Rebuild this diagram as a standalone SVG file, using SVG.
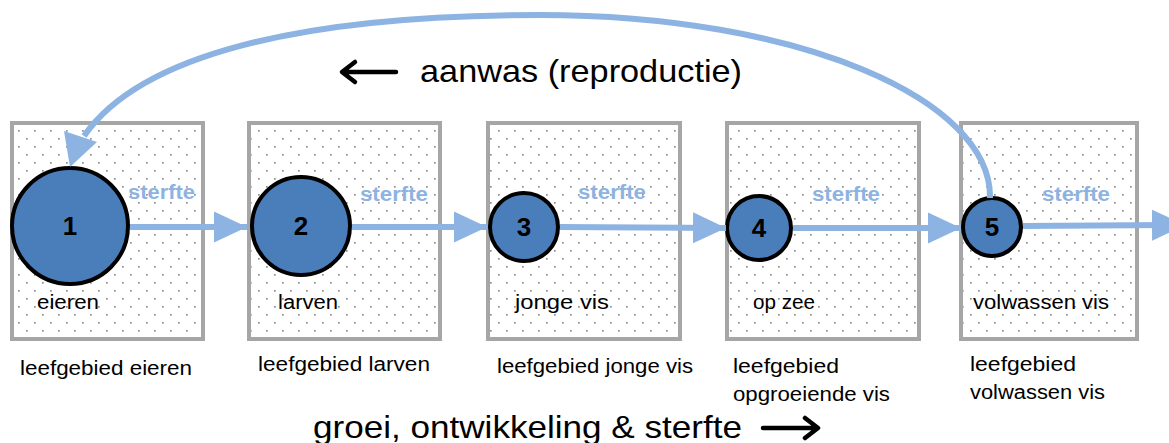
<svg xmlns="http://www.w3.org/2000/svg" width="1169" height="443" viewBox="0 0 1169 443">
<defs>
<pattern id="dots" width="16" height="16" patternUnits="userSpaceOnUse">
<rect width="16" height="16" fill="#fff"/>
<rect x="2" y="2" width="1.7" height="1.7" fill="#909090"/>
<rect x="10" y="10" width="1.7" height="1.7" fill="#909090"/>
</pattern>
<marker id="head" markerWidth="6" markerHeight="6" refX="5.5" refY="3" orient="auto" markerUnits="strokeWidth">
<path d="M0,0.4 L5.5,3 L0,5.6 Z" fill="#8db3e2"/>
</marker>
</defs>
<style>
.box{fill:url(#dots);stroke:#a6a6a6;stroke-width:4}
.c{fill:#4a7ebb;stroke:#000;stroke-width:4}
.num{font-family:"Liberation Sans",Arial,sans-serif;font-weight:bold;font-size:26px;fill:#000;text-anchor:middle}
.st{font-family:"Liberation Sans",Arial,sans-serif;font-weight:bold;font-size:20px;fill:#8db3e2}
.lb{font-family:"Liberation Sans",Arial,sans-serif;font-size:20px;fill:#000}
.big{font-family:"Liberation Sans",Arial,sans-serif;font-size:32px;fill:#000}
.flow{fill:none;stroke:#8db3e2;stroke-width:6;marker-end:url(#head)}
.arc{fill:none;stroke:#8db3e2;stroke-width:6}
.ah{fill:#8db3e2}
.ba{stroke:#000;stroke-width:4.5;fill:none;stroke-linecap:round;stroke-linejoin:round}
</style>
<g id="node1">
<rect class="box" x="12" y="123" width="191" height="216"/>
<circle class="c" cx="70" cy="226" r="58"/>
<text class="num" x="70" y="235">1</text>
<text class="lb" x="37" y="309" textLength="62" lengthAdjust="spacingAndGlyphs">eieren</text>
<text class="lb" x="20" y="375" textLength="172" lengthAdjust="spacingAndGlyphs">leefgebied eieren</text>
</g>
<g id="node2">
<rect class="box" x="249" y="123" width="191" height="216"/>
<circle class="c" cx="301" cy="226" r="49"/>
<text class="num" x="301" y="235">2</text>
<text class="lb" x="278" y="309" textLength="60" lengthAdjust="spacingAndGlyphs">larven</text>
<text class="lb" x="258" y="371" textLength="172" lengthAdjust="spacingAndGlyphs">leefgebied larven</text>
</g>
<g id="node3">
<rect class="box" x="488" y="123" width="192" height="216"/>
<circle class="c" cx="524" cy="227" r="34"/>
<text class="num" x="524" y="236">3</text>
<text class="lb" x="515" y="309" textLength="94" lengthAdjust="spacingAndGlyphs">jonge vis</text>
<text class="lb" x="497" y="373" textLength="196" lengthAdjust="spacingAndGlyphs">leefgebied jonge vis</text>
</g>
<g id="node4">
<rect class="box" x="727" y="123" width="192" height="216"/>
<circle class="c" cx="759" cy="228" r="32"/>
<text class="num" x="759" y="237">4</text>
<text class="lb" x="753" y="309" textLength="62" lengthAdjust="spacingAndGlyphs">op zee</text>
<text class="lb" x="733" y="373" textLength="106" lengthAdjust="spacingAndGlyphs">leefgebied</text>
<text class="lb" x="733" y="401" textLength="157" lengthAdjust="spacingAndGlyphs">opgroeiende vis</text>
</g>
<g id="node5">
<rect class="box" x="961" y="123" width="176" height="216"/>
<circle class="c" cx="992" cy="227" r="29"/>
<text class="num" x="992" y="236">5</text>
<text class="lb" x="973" y="309" textLength="136" lengthAdjust="spacingAndGlyphs">volwassen vis</text>
<text class="lb" x="970" y="371" textLength="106" lengthAdjust="spacingAndGlyphs">leefgebied</text>
<text class="lb" x="970" y="399" textLength="135" lengthAdjust="spacingAndGlyphs">volwassen vis</text>
</g>
<g id="connectors">
<line class="flow" x1="130" y1="227" x2="247" y2="227"/>
<line class="flow" x1="352" y1="227" x2="487" y2="227"/>
<line class="flow" x1="560" y1="227" x2="726" y2="228"/>
<line class="flow" x1="793" y1="228" x2="961" y2="228"/>
<line class="flow" x1="1023" y1="226" x2="1185" y2="225"/>
<path class="arc" d="M990,198 C992,100 800,15 540,15 C300,15 140,55 84,136"/>
<polygon class="ah" points="70,167 64,131 97,142"/>
</g>
<g id="labels">
<text class="st" x="128" y="199" textLength="67" lengthAdjust="spacingAndGlyphs">sterfte</text>
<text class="st" x="360" y="201" textLength="68" lengthAdjust="spacingAndGlyphs">sterfte</text>
<text class="st" x="578" y="199" textLength="68" lengthAdjust="spacingAndGlyphs">sterfte</text>
<text class="st" x="812" y="201" textLength="68" lengthAdjust="spacingAndGlyphs">sterfte</text>
<text class="st" x="1042" y="201" textLength="68" lengthAdjust="spacingAndGlyphs">sterfte</text>
<path class="ba" d="M396,72 H343 M355,62 L342,72 L355,82"/>
<text class="big" x="420" y="82" textLength="322" lengthAdjust="spacingAndGlyphs">aanwas (reproductie)</text>
<text class="big" x="313" y="438" textLength="429" lengthAdjust="spacingAndGlyphs">groei, ontwikkeling &amp; sterfte</text>
<path class="ba" d="M763,428 H817 M805,418 L818,428 L805,438"/>
</g>
</svg>
